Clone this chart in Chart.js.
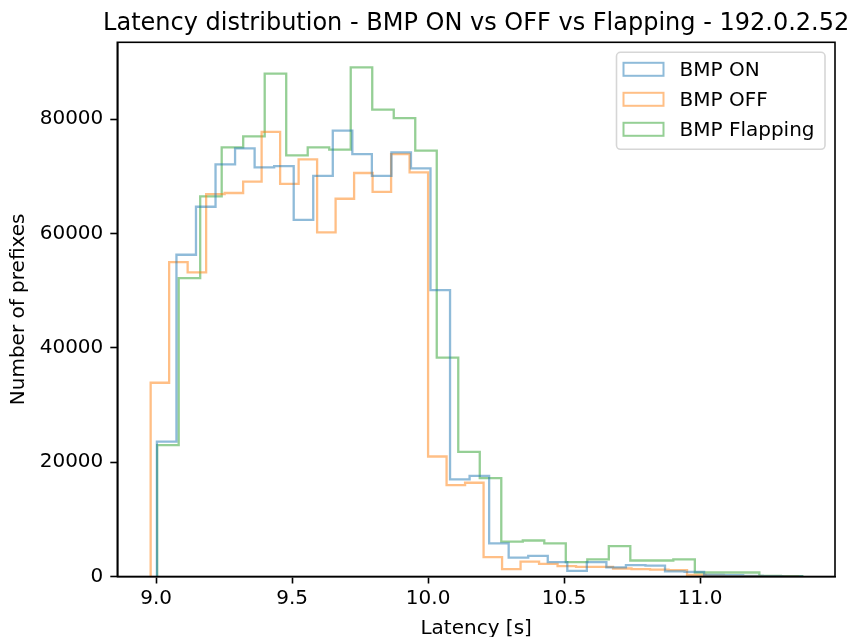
<!DOCTYPE html>
<html><head><meta charset="utf-8">
<script src="https://cdn.jsdelivr.net/npm/chart.js@4/dist/chart.umd.min.js"></script>
<style>html,body{margin:0;padding:0;background:#fff;} #wrap{width:850px;height:637px;position:relative;}</style>
</head><body><div id="wrap"><canvas id="c" width="850" height="637"></canvas></div>
<script>
// ---- data ----
const chartTitle = 'Latency distribution - BMP ON vs OFF vs Flapping - 192.0.2.52';
const xLabel = 'Latency [s]';
const yLabel = 'Number of prefixes';
const seriesNames = ['BMP ON', 'BMP OFF', 'BMP Flapping'];

// histogram range [first edge, last edge] (s) and bin counts per series
const onRange = [9.003, 11.374];
const onCounts = [23600, 56300, 64700, 72100, 74900, 71600, 71800, 62400, 70100, 78000,
  73900, 70100, 74200, 71400, 50100, 17000, 17600, 5800, 3300, 3600,
  2500, 1000, 2500, 1600, 2000, 1900, 900, 800, 300, 250, 100, 50, 30];

const offRange = [8.980, 11.360];
const offCounts = [33900, 55000, 53200, 66900, 67100, 69100, 77800, 68700, 73000, 60200,
  66100, 70600, 67300, 73900, 70700, 21000, 16000, 16400, 3400, 1300,
  2600, 2200, 1800, 1700, 1700, 1400, 1300, 1200, 1100, 300, 150, 80, 50, 30, 20];

const flapRange = [9.004, 11.376];
const flapCounts = [23000, 52200, 66500, 75100, 77000, 88000, 73700, 75100, 74700, 89100,
  81700, 80200, 74500, 38300, 21800, 17200, 6100, 6300, 5800, 2500,
  3000, 5300, 2800, 2800, 3000, 700, 700, 700, 100, 50];

const xTicks = [9.0, 9.5, 10.0, 10.5, 11.0];
const yTicks = [0, 20000, 40000, 60000, 80000];

// ---- styling ----
const FONT = 'DejaVu Sans';
const colors = ['rgba(31,119,180,0.5)', 'rgba(255,127,14,0.5)', 'rgba(44,160,44,0.5)'];

function stepPoints(range, counts) {
  const w = (range[1] - range[0]) / counts.length;
  const pts = [{x: range[0], y: 0}];
  counts.forEach((c, i) => pts.push({x: range[0] + i * w, y: c}));
  pts.push({x: range[1], y: 0});
  return pts;
}

const datasets = [[onRange, onCounts], [offRange, offCounts], [flapRange, flapCounts]].map((s, i) => ({
  label: seriesNames[i],
  data: stepPoints(s[0], s[1]),
  borderColor: colors[i],
  backgroundColor: 'rgba(0,0,0,0)',
  borderWidth: 2.3,
  stepped: true,
  pointRadius: 0,
  fill: false,
  tension: 0
}));

const framePlugin = {
  id: 'frame',
  afterDatasetsDraw(chart) {
    const a = chart.chartArea, ctx = chart.ctx;
    ctx.save();
    ctx.strokeStyle = '#000';
    ctx.lineWidth = 1.6;
    ctx.strokeRect(a.left, a.top, a.right - a.left, a.bottom - a.top);
    ctx.restore();
  }
};

const titlePlugin = {
  id: 'mtitle',
  afterDraw(chart) {
    const a = chart.chartArea, ctx = chart.ctx;
    ctx.save();
    ctx.font = '24px "' + FONT + '"';
    ctx.fillStyle = '#000';
    ctx.textAlign = 'center';
    ctx.textBaseline = 'alphabetic';
    ctx.fillText(chartTitle, (a.left + a.right) / 2, 30);
    ctx.restore();
  }
};

const legendPlugin = {
  id: 'mlegend',
  afterDraw(chart) {
    const a = chart.chartArea, ctx = chart.ctx;
    const right = a.right - 10, top = a.top + 10;
    const w = 208.5, h = 97;
    const left = right - w;
    ctx.save();
    ctx.beginPath();
    ctx.roundRect(left, top, w, h, 4);
    ctx.fillStyle = 'rgba(255,255,255,0.8)';
    ctx.fill();
    ctx.strokeStyle = '#d6d6d6';
    ctx.lineWidth = 1.6;
    ctx.stroke();
    ctx.font = '20px "' + FONT + '"';
    ctx.textBaseline = 'middle';
    ctx.textAlign = 'left';
    chart.data.datasets.forEach((ds, i) => {
      const cy = top + 17 + i * 30;
      ctx.strokeStyle = ds.borderColor;
      ctx.lineWidth = 2;
      ctx.strokeRect(left + 7, cy - 6.5, 40, 13);
      ctx.fillStyle = '#000';
      ctx.fillText(ds.label, left + 63, cy + 1);
    });
    ctx.restore();
  }
};

new Chart(document.getElementById('c'), {
  type: 'line',
  data: {datasets},
  plugins: [framePlugin, titlePlugin, legendPlugin],
  options: {
    responsive: false,
    animation: false,
    devicePixelRatio: 1,
    layout: {padding: {left: 0, top: 42.3, right: 15, bottom: 0}},
    plugins: {legend: {display: false}, title: {display: false}, tooltip: {enabled: false}},
    scales: {
      x: {
        type: 'linear',
        min: 8.8574, max: 11.496,
        afterBuildTicks: s => { s.ticks = xTicks.map(v => ({value: v})); },
        afterFit: s => { s.height = 60.5; },
        ticks: {font: {family: FONT, size: 20}, color: '#000', padding: 3, maxRotation: 0,
                callback: v => Number(v).toFixed(1)},
        grid: {drawOnChartArea: false, drawTicks: true, tickLength: 7, tickWidth: 1.6, color: '#000'},
        border: {display: true, color: '#000', width: 1.6},
        title: {display: true, text: xLabel, font: {family: FONT, size: 20}, color: '#000',
                padding: {top: 0, bottom: -4}}
      },
      y: {
        type: 'linear',
        min: 0, max: 93470,
        afterBuildTicks: s => { s.ticks = yTicks.map(v => ({value: v})); },
        afterFit: s => { s.width = 117.3; },
        ticks: {font: {family: FONT, size: 20}, color: '#000', padding: 7,
                callback: v => String(v)},
        grid: {drawOnChartArea: false, drawTicks: true, tickLength: 7, tickWidth: 1.6, color: '#000'},
        border: {display: true, color: '#000', width: 1.6},
        title: {display: true, text: yLabel, font: {family: FONT, size: 20}, color: '#000',
                padding: {top: 7, bottom: 0}}
      }
    }
  }
});
</script></body></html>
